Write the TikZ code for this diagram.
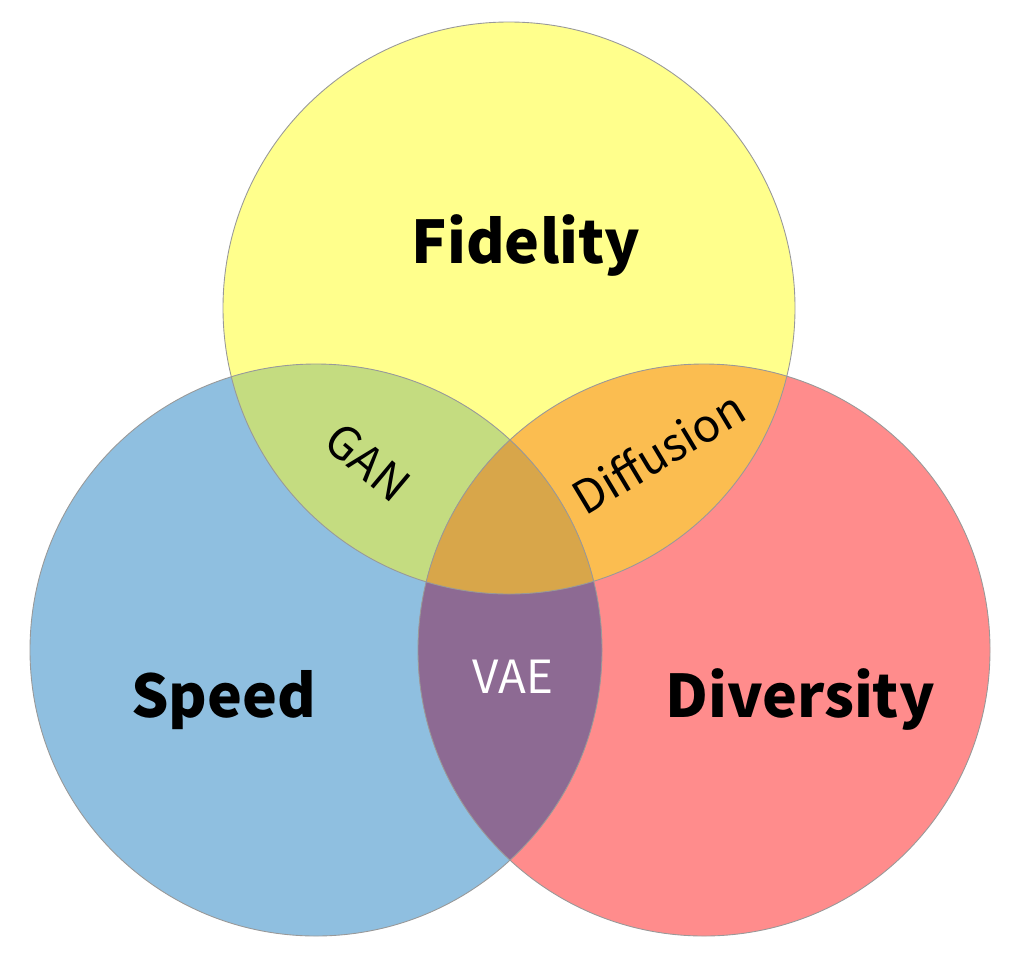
\documentclass[tikz,border=0pt]{standalone}
\usepackage{fontspec}
\setsansfont{Noto Sans CJK KR}
\usepackage{tikz}
\definecolor{fidcol}{HTML}{FFFF8C}
\definecolor{spdcol}{HTML}{8FBFE0}
\definecolor{divcol}{HTML}{FF8C8C}
\definecolor{gancol}{HTML}{C4DC80}
\definecolor{difcol}{HTML}{FBBD50}
\definecolor{vaecol}{HTML}{8D6A93}
\definecolor{midcol}{HTML}{D8A64A}
\tikzset{%
      base/.style = {circle, minimum size=11.44cm, inner sep=0pt},
      rim/.style  = {draw=gray!80, line width=0.5pt},
     title/.style = {anchor=base, font=\sffamily\bfseries\fontsize{33.5}{36}\selectfont},
       tag/.style = {font=\sffamily\fontsize{26}{30}\selectfont},
}

\begin{document}
\begin{tikzpicture}
  \useasboundingbox (0,0) rectangle (20.3,-19.08);

  \node (fid) [base, fill=fidcol] at (10.18,-6.16) {};
  \node (spd) [base, fill=spdcol] at (6.32,-13.0)  {};
  \node (div) [base, fill=divcol] at (14.08,-13.0) {};

  % overlaps
  \begin{scope}
    \clip (fid.center) circle (5.72cm);
    \fill[gancol] (spd.center) circle (5.72cm);
    \fill[difcol] (div.center) circle (5.72cm);
  \end{scope}
  \begin{scope}
    \clip (spd.center) circle (5.72cm);
    \fill[vaecol] (div.center) circle (5.72cm);
    \clip (div.center) circle (5.72cm);
    \fill[midcol] (fid.center) circle (5.72cm);
  \end{scope}

  \foreach \c in {fid,spd,div}
    \draw[rim] (\c.center) circle (5.72cm);

  \node (tfid) [title] at (10.52,-5.26)  {Fidelity};
  \node (tspd) [title] at (4.48,-14.34)  {Speed};
  \node (tdiv) [title] at (16.0,-14.34)  {Diversity};

  \node (tgan) [tag, rotate=-40] at (7.36,-9.24)  {GAN};
  \node (tdif) [tag, rotate=31]  at (13.16,-9.04) {Diffusion};
  \node (tvae) [tag, anchor=base, text=white] at (10.26,-13.86) {VAE};
\end{tikzpicture}
\end{document}
